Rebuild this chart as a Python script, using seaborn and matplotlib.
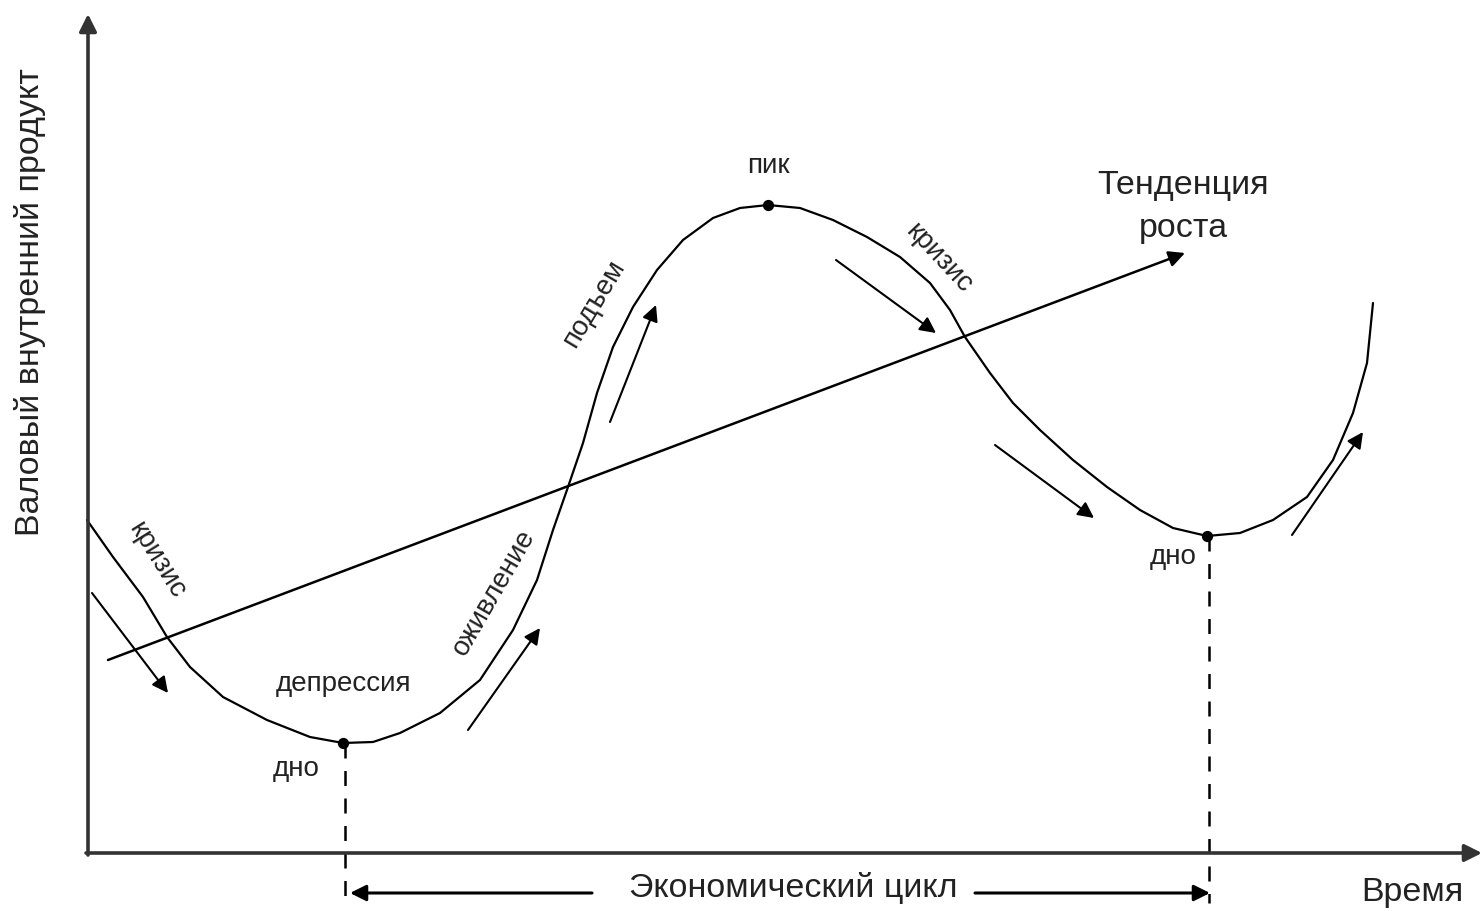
import numpy as np
import pandas as pd
import matplotlib
matplotlib.use("Agg")
import matplotlib.pyplot as plt
import seaborn as sns

sns.set_theme(style="white")
plt.rcParams["font.family"] = ["Liberation Sans", "DejaVu Sans"]

# business-cycle curve (pixel space, y grows downward)
curve_x = [87, 113, 143, 167, 190, 223, 267, 310, 343, 373, 400, 440, 480, 513,
           537, 553, 568, 583, 597, 613, 633, 657, 683, 713, 740, 768, 800, 833,
           867, 900, 930, 950, 965, 990, 1013, 1040, 1073, 1107, 1140, 1173, 1207,
           1240, 1273, 1307, 1333, 1353, 1367, 1373]
curve_y = [520, 557, 597, 637, 667, 697, 720, 737, 743, 742, 733, 713, 680, 630,
           580, 530, 487, 443, 393, 347, 307, 270, 240, 218, 208, 205, 208, 220,
           237, 257, 283, 310, 337, 373, 403, 430, 460, 487, 510, 528, 536,
           533, 520, 497, 460, 413, 363, 303]

# key points: trough, peak, trough
key_x = [343, 768, 1207]
key_y = [743, 205, 536]

# growth trend
trend_x = [108, 1185]
trend_y = [660, 253]

# direction arrows along the curve (start -> end)
dir_start = [(92, 593), (468, 730), (610, 422), (836, 260), (995, 445), (1292, 535)]
dir_end = [(168, 693), (540, 628), (656, 305), (936, 333), (1094, 518), (1363, 432)]

# phase labels: text, x, y, rotation
labels = [
    ("кризис", 157, 560, -58),
    ("депрессия", 344, 684, 0),
    ("дно", 296, 769, 0),
    ("оживление", 494, 593, 60),
    ("подъем", 594, 304, 59),
    ("пик", 768, 166, 0),
    ("кризис", 939, 258, -47),
    ("дно", 1173, 557, 0),
]

W, H = 1484, 911
fig = plt.figure(figsize=(W / 100, H / 100), dpi=100)
ax = fig.add_axes([0, 0, 1, 1])
ax.set_xlim(0, W)
ax.set_ylim(H, 0)
ax.axis("off")

head = dict(arrowstyle="-|>", mutation_scale=24, lw=1.5, color="black",
            shrinkA=0, shrinkB=0)
txt_color = "#222222"

# axes with arrows
ax.annotate("", xy=(88, 14), xytext=(88, 855),
            arrowprops=dict(head, lw=2.6, color="#333333", mutation_scale=26))
ax.annotate("", xy=(1482, 853), xytext=(86, 853),
            arrowprops=dict(head, lw=2.6, color="#333333", mutation_scale=26))
ax.text(30, 302, "Валовый внутренний продукт", rotation=90, ha="center",
        va="center", fontsize=24.5, color=txt_color)
ax.text(1412, 892, "Время", ha="center", va="center", fontsize=24.5,
        color=txt_color)

# cycle curve
df = pd.DataFrame({"x": curve_x, "y": curve_y})
sns.lineplot(data=df, x="x", y="y", sort=False, color="black", lw=1.6,
             ax=ax, estimator=None)
ax.scatter(key_x, key_y, s=50, color="black", zorder=5)

# growth trend
ax.annotate("", xy=(trend_x[1], trend_y[1]), xytext=(trend_x[0], trend_y[0]),
            arrowprops=dict(head, lw=1.8))
ax.text(1183, 207, "Тенденция\nроста", ha="center", va="center",
        fontsize=24.5, linespacing=1.5, color=txt_color)

# direction arrows
for (x0, y0), (x1, y1) in zip(dir_start, dir_end):
    ax.annotate("", xy=(x1, y1), xytext=(x0, y0), arrowprops=head)

for txt, x, y, rot in labels:
    ax.text(x, y, txt, rotation=rot, ha="center", va="center", fontsize=20,
            color=txt_color, rotation_mode="anchor")

# dashed drop lines to time axis
for xd, yd in zip([key_x[0], key_x[2]], [key_y[0], key_y[2]]):
    ax.plot([xd + 2, xd + 2], [yd, 903], ls=(0, (6, 5)), color="black", lw=1.8)

# economic cycle span
ax.annotate("", xy=(350, 893), xytext=(592, 893), arrowprops=dict(head, lw=2.2))
ax.annotate("", xy=(1210, 893), xytext=(975, 893), arrowprops=dict(head, lw=2.2))
ax.text(793, 888, "Экономический цикл", ha="center", va="center",
        fontsize=24.5, color=txt_color)

fig.savefig("out.png", dpi=100, facecolor="white")
